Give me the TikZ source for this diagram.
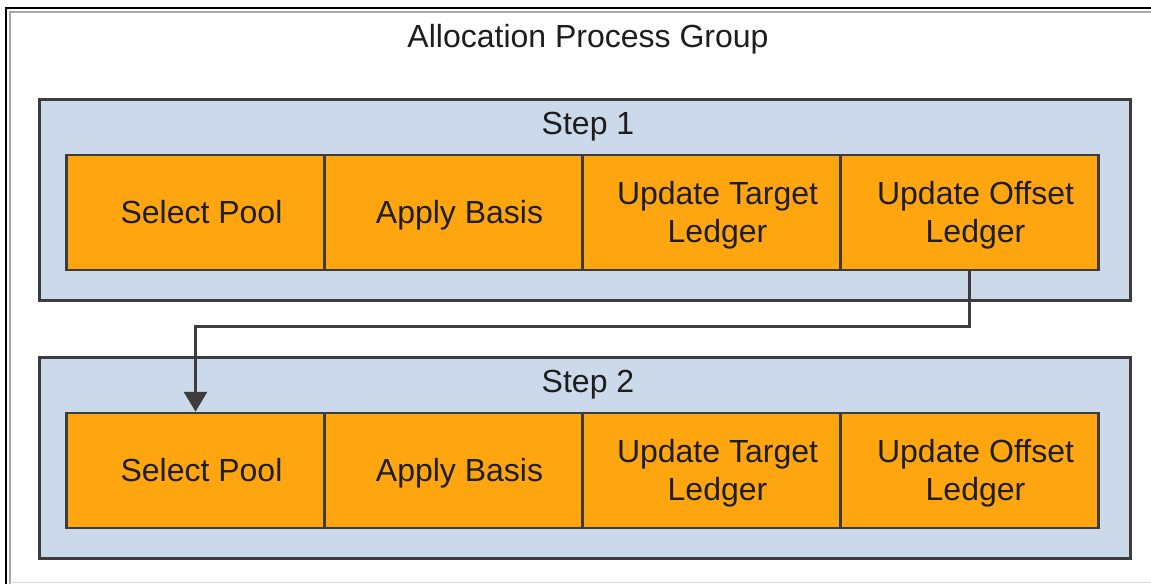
\documentclass[tikz,border=0pt]{standalone}
\usepackage{fontspec}
\setmainfont{Liberation Sans}
\usetikzlibrary{arrows.meta}
\definecolor{stepfill}{HTML}{CCD9EB}
\definecolor{taskfill}{HTML}{FEA510}
\definecolor{edge}{HTML}{3C3C3C}
\definecolor{txt}{HTML}{1E1E1E}
\newcommand\shl{\rule[-8.5pt]{0pt}{38pt}\hspace*{12pt}}
\begin{document}
\begin{tikzpicture}[x=1pt,y=-1pt,
  stepbox/.style={draw=edge,line width=3pt,fill=stepfill,minimum width=1091pt,minimum height=201pt,inner sep=0pt,anchor=north west},
  taskbox/.style={draw=edge,line width=2.5pt,fill=taskfill,minimum width=258pt,minimum height=115pt,inner sep=0pt,align=center,text=txt,font=\fontsize{32}{38}\selectfont},
  lbl/.style={text=txt,font=\fontsize{32}{38}\selectfont,inner sep=0pt,anchor=base},
  conn/.style={draw=edge,line width=3pt,-{Triangle[width=23pt,length=20pt]}}]
\useasboundingbox (0,0) rectangle (1151,584);
\fill[white] (0,0) rectangle (1151,584);
% outer frame
\draw[black,line width=2pt] (6,584) -- (6,8) -- (1151,8);
\draw[gray!70,line width=2pt] (10,584) -- (10,11.5) -- (1151,11.5);
\draw[gray!30,line width=1.5pt] (10,582.5) -- (1151,582.5);
\node[lbl] (title) at (588,47) {Allocation Process Group};
% step 1
\node[stepbox] (s1) at (38,98) {};
\node[lbl] (s1l) at (588,134.5) {Step 1};
\node[taskbox] (a1) at (195.5,212.5) {\shl Select Pool};
\node[taskbox] (b1) at (453.5,212.5) {\shl Apply Basis};
\node[taskbox] (c1) at (711.5,212.5) {\shl Update Target\\\shl Ledger};
\node[taskbox] (d1) at (969.5,212.5) {\shl Update Offset\\\shl Ledger};
% step 2
\node[stepbox] (s2) at (38,356) {};
\node[lbl] (s2l) at (588,392.5) {Step 2};
\node[taskbox] (a2) at (195.5,470.5) {\shl Select Pool};
\node[taskbox] (b2) at (453.5,470.5) {\shl Apply Basis};
\node[taskbox] (c2) at (711.5,470.5) {\shl Update Target\\\shl Ledger};
\node[taskbox] (d2) at (969.5,470.5) {\shl Update Offset\\\shl Ledger};
% connector
\coordinate (k1) at (969.5,326.5);
\draw[conn] (d1.south) -- (k1) -| (a2.north);
\end{tikzpicture}
\end{document}
